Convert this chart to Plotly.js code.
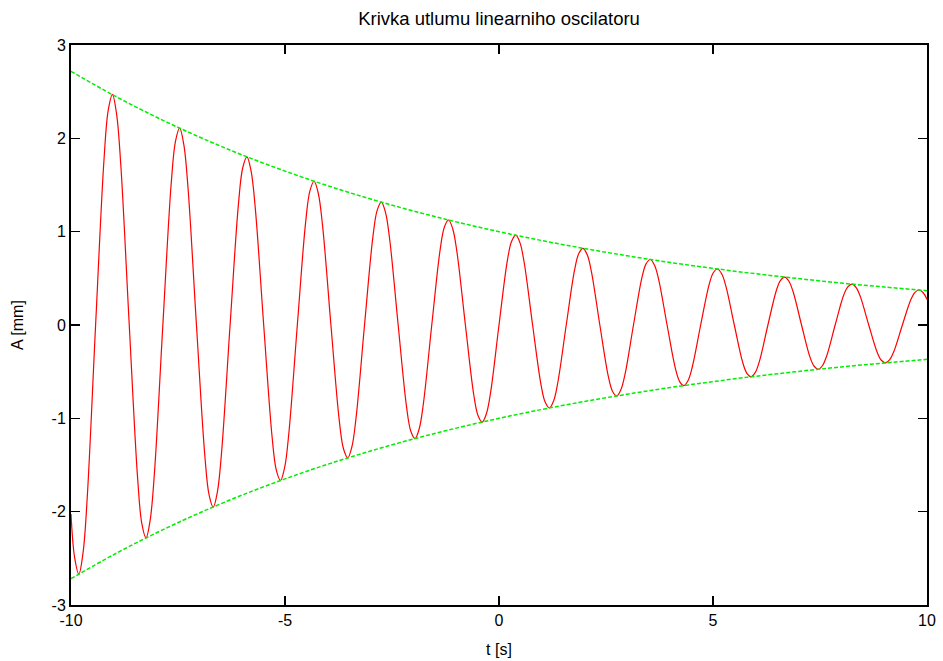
<!DOCTYPE html>
<html>
<head>
<meta charset="utf-8">
<script src="https://cdn.plot.ly/plotly-3.0.1.min.js"></script>
<style>html,body{margin:0;padding:0;background:#fff;}#chart{width:943px;height:661px;}</style>
</head>
<body>
<div id="chart"></div>
<script>
// Oscillation samples (t [s], A [mm])
var oscT = [-10,-9.916,-9.817,-9.719,-9.621,-9.425,-9.228,-9.130,-9.032,-8.934,-8.836,
  -8.639,-8.443,-8.345,-8.247,-8.149,-8.050,
  -7.854,-7.658,-7.559,-7.461,-7.363,-7.265,
  -7.069,-6.872,-6.774,-6.676,-6.578,-6.480,
  -6.283,-6.087,-5.989,-5.890,-5.792,-5.694,
  -5.498,-5.301,-5.203,-5.105,-5.007,-4.909,
  -4.712,-4.516,-4.418,-4.320,-4.222,-4.123,
  -3.927,-3.731,-3.632,-3.534,-3.436,-3.338,
  -3.142,-2.945,-2.847,-2.749,-2.651,-2.553,
  -2.356,-2.160,-2.062,-1.963,-1.865,-1.767,
  -1.571,-1.374,-1.276,-1.178,-1.080,-0.982,
  -0.785,-0.589,-0.491,-0.393,-0.295,-0.196,
  0,0.196,0.295,0.393,0.491,0.589,
  0.785,0.982,1.080,1.178,1.276,1.374,
  1.571,1.767,1.865,1.963,2.062,2.160,
  2.356,2.553,2.651,2.749,2.847,2.945,
  3.142,3.338,3.436,3.534,3.632,3.731,
  3.927,4.123,4.222,4.320,4.418,4.516,
  4.712,4.909,5.007,5.105,5.203,5.301,
  5.498,5.694,5.792,5.890,5.989,6.087,
  6.283,6.480,6.578,6.676,6.774,6.872,
  7.069,7.265,7.363,7.461,7.559,7.658,
  7.854,8.050,8.149,8.247,8.345,8.443,
  8.639,8.836,8.934,9.032,9.130,9.228,
  9.425,9.621,9.719,9.817,9.916,10];
var oscA = [-2.025,-2.490,-2.669,-2.442,-1.851,0,1.779,2.302,2.468,2.257,1.711,
  0,-1.645,-2.128,-2.281,-2.087,-1.582,
  0,1.521,1.968,2.109,1.929,1.462,
  0,-1.406,-1.819,-1.950,-1.784,-1.352,
  0,1.300,1.682,1.802,1.649,1.250,
  0,-1.202,-1.555,-1.666,-1.524,-1.155,
  0,1.111,1.437,1.540,1.409,1.068,
  0,-1.027,-1.329,-1.424,-1.303,-0.987,
  0,0.949,1.228,1.316,1.204,0.913,
  0,-0.878,-1.135,-1.217,-1.113,-0.844,
  0,0.811,1.050,1.125,1.029,0.780,
  0,-0.750,-0.970,-1.040,-0.951,-0.721,
  0,0.693,0.897,0.962,0.880,0.667,
  0,-0.641,-0.829,-0.889,-0.813,-0.616,
  0,0.593,0.767,0.822,0.752,0.570,
  0,-0.548,-0.709,-0.760,-0.695,-0.527,
  0,0.506,0.655,0.702,0.642,0.487,
  0,-0.468,-0.606,-0.649,-0.594,-0.450,
  0,0.433,0.560,0.600,0.549,0.416,
  0,-0.400,-0.518,-0.555,-0.508,-0.385,
  0,0.370,0.479,0.513,0.469,0.356,
  0,-0.342,-0.442,-0.474,-0.434,-0.329,
  0,0.316,0.409,0.438,0.401,0.304,
  0,-0.292,-0.378,-0.405,-0.371,-0.281,
  0,0.270,0.350,0.375,0.343,0.274];
// Envelope
var envT = [-10,-9,-8,-7,-6,-5,-4,-3,-2,-1,0,1,2,3,4,5,6,7,8,9,10];
var envUpper = [2.718,2.460,2.226,2.014,1.822,1.649,1.492,1.350,1.221,1.105,1.000,
  0.905,0.819,0.741,0.670,0.607,0.549,0.497,0.449,0.407,0.368];
var envLower = envUpper.map(function(v){return -v;});

var xTicks = [-10,-5,0,5,10];
var yTicks = [-3,-2,-1,0,1,2,3];

var FONT = 'Liberation Sans, Arial, sans-serif';
var traces = [
  {x: oscT, y: oscA, type: 'scatter', mode: 'lines',
   line: {color: '#ff0000', width: 1.2, shape: 'spline', smoothing: 1}, hoverinfo: 'skip'},
  {x: envT, y: envUpper, type: 'scatter', mode: 'lines',
   line: {color: '#00ee00', width: 1.5, dash: '4px,2px', shape: 'spline'}, hoverinfo: 'skip'},
  {x: envT, y: envLower, type: 'scatter', mode: 'lines',
   line: {color: '#00ee00', width: 1.5, dash: '4px,2px', shape: 'spline'}, hoverinfo: 'skip'}
];
var axisCommon = {
  showgrid: false, zeroline: false, showline: true, linecolor: '#000', linewidth: 2,
  mirror: 'allticks', ticks: 'inside', ticklen: 9, tickwidth: 1.5, tickcolor: '#000',
  tickfont: {family: FONT, size: 16, color: '#000'}
};
var layout = {
  width: 943, height: 661,
  margin: {l: 71, r: 16, t: 45, b: 56},
  paper_bgcolor: '#fff', plot_bgcolor: '#fff',
  showlegend: false,
  font: {family: FONT, color: '#000'},
  title: {text: 'Krivka utlumu linearniho oscilatoru', font: {family: FONT, size: 18.5, color: '#000'},
          xref: 'paper', x: 0.5, xanchor: 'center', yref: 'container', y: 0.972, yanchor: 'middle'},
  xaxis: Object.assign({}, axisCommon, {
    range: [-10, 10], tickvals: xTicks, ticktext: xTicks.map(String),
    title: {text: 't [s]', font: {family: FONT, size: 16, color: '#000'}, standoff: 16}
  }),
  yaxis: Object.assign({}, axisCommon, {
    range: [-3, 3], tickvals: yTicks, ticktext: yTicks.map(String),
    title: {text: 'A [mm]', font: {family: FONT, size: 16, color: '#000'}, standoff: 24}
  })
};
Plotly.newPlot('chart', traces, layout, {staticPlot: true, displayModeBar: false});
</script>
</body>
</html>
